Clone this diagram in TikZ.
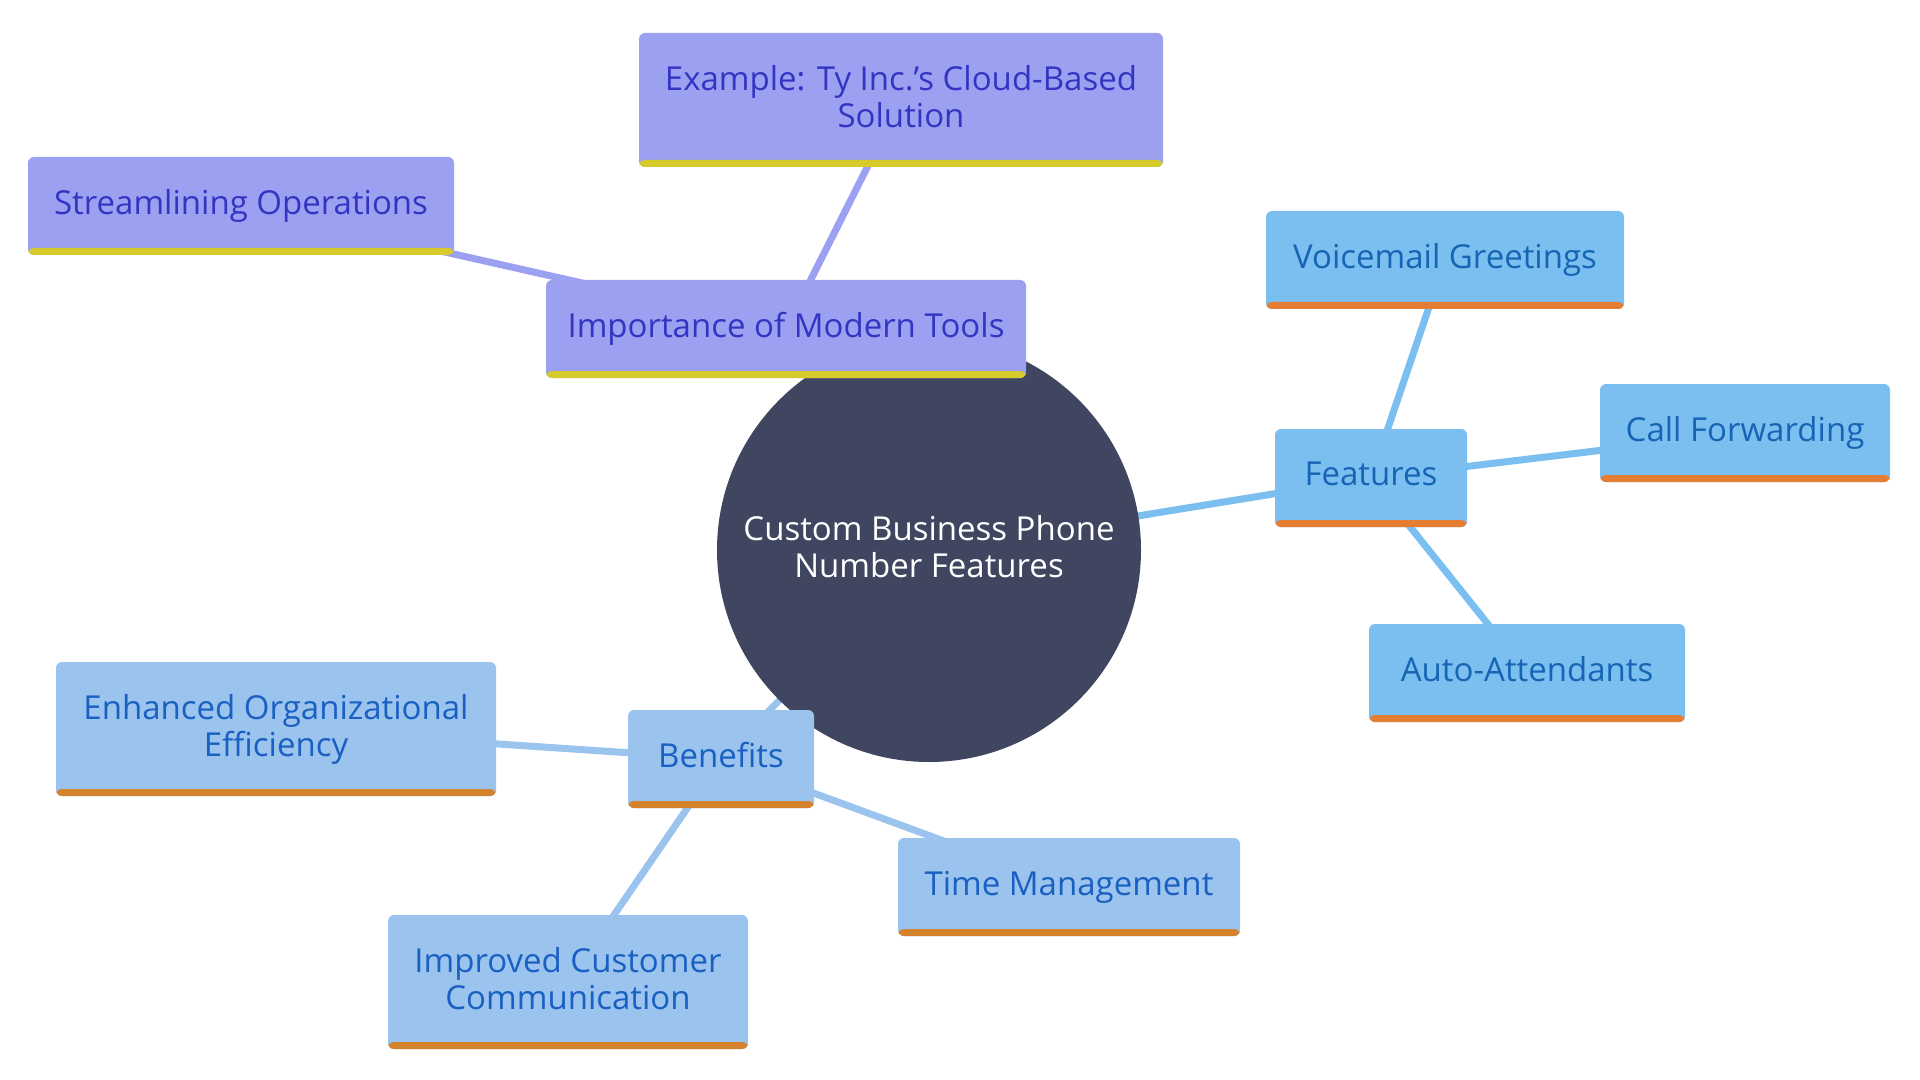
\documentclass[tikz,border=0pt]{standalone}
\usepackage{fontspec}
\setmainfont{Open Sans}
\usetikzlibrary{positioning,calc,backgrounds}
\definecolor{hubfill}{HTML}{404660}
\definecolor{toolfill}{HTML}{9BA0F1}
\definecolor{tooltext}{HTML}{3434C2}
\definecolor{toolbar}{HTML}{D6CB2A}
\definecolor{featfill}{HTML}{7BBFF1}
\definecolor{feattext}{HTML}{1565B4}
\definecolor{featbar}{HTML}{E57E32}
\definecolor{benfill}{HTML}{9AC3EE}
\definecolor{bentext}{HTML}{1A5FC2}
\definecolor{benbar}{HTML}{D4832C}
\tikzstyle{topic} = [rectangle, rounded corners=3pt, align=center, inner sep=0pt, font=\fontsize{16.5}{18.5}\selectfont, execute at end node={\vphantom{g}}]
\tikzstyle{toolbox} = [topic, fill=toolfill, text=tooltext, path picture={\fill[toolbar] (path picture bounding box.south west) rectangle ([yshift=3.5pt]path picture bounding box.south east);}]
\tikzstyle{featbox} = [topic, fill=featfill, text=feattext, path picture={\fill[featbar] (path picture bounding box.south west) rectangle ([yshift=3.5pt]path picture bounding box.south east);}]
\tikzstyle{benbox} = [topic, fill=benfill, text=bentext, path picture={\fill[benbar] (path picture bounding box.south west) rectangle ([yshift=3.5pt]path picture bounding box.south east);}]
\tikzstyle{toolline} = [draw=toolfill, line width=3.5pt]
\tikzstyle{featline} = [draw=featfill, line width=3.5pt]
\tikzstyle{benline} = [draw=benfill, line width=3.5pt]

\begin{document}
\begin{tikzpicture}[x=0.5pt, y=-0.5pt]
    \useasboundingbox (0,0) rectangle (1920,1080);
    \node [circle, fill=hubfill, text=white, minimum size=212pt, inner sep=0pt, align=center, font=\fontsize{16.5}{18.5}\selectfont, execute at end node={\vphantom{g}}] (hub) at (929,550) {Custom Business Phone\\Number Features};

    \node [toolbox, minimum width=262pt, minimum height=67pt] (example) at (901,100) {Example: Ty Inc.'s Cloud-Based\\Solution};
    \node [toolbox, minimum width=213pt, minimum height=49pt] (stream) at (241,206) {Streamlining Operations};
    \node [toolbox, minimum width=240pt, minimum height=49pt] (tools) at (786,329) {Importance of Modern Tools};

    \node [featbox, minimum width=179pt, minimum height=49pt] (voice) at (1445,260) {Voicemail Greetings};
    \node [featbox, minimum width=145pt, minimum height=49pt] (forward) at (1745,433) {Call Forwarding};
    \node [featbox, minimum width=96pt, minimum height=49pt] (feat) at (1371,478) {Features};
    \node [featbox, minimum width=158pt, minimum height=49pt] (auto) at (1527,673) {Auto-Attendants};

    \node [benbox, minimum width=220pt, minimum height=67pt] (eff) at (276,729) {Enhanced Organizational\\Efficiency};
    \node [benbox, minimum width=93pt, minimum height=49pt] (ben) at (721,759) {Benefits};
    \node [benbox, minimum width=171pt, minimum height=49pt] (time) at (1069,887) {Time Management};
    \node [benbox, minimum width=180pt, minimum height=67pt] (comm) at (568,982) {Improved Customer\\Communication};

    \begin{scope}[on background layer]
    \path [toolline] (hub.center) -- (tools.center);
    \path [toolline] (tools.center) -- (stream.center);
    \path [toolline] (tools.center) -- (example.center);
    \path [featline] (hub.center) -- (feat.center);
    \path [featline] (feat.center) -- (voice.center);
    \path [featline] (feat.center) -- (forward.center);
    \path [featline] (feat.center) -- (auto.center);
    \path [benline] (hub.center) -- (ben.center);
    \path [benline] (ben.center) -- (eff.center);
    \path [benline] (ben.center) -- (comm.center);
    \path [benline] (ben.center) -- (time.center);
    \end{scope}
\end{tikzpicture}
\end{document}
